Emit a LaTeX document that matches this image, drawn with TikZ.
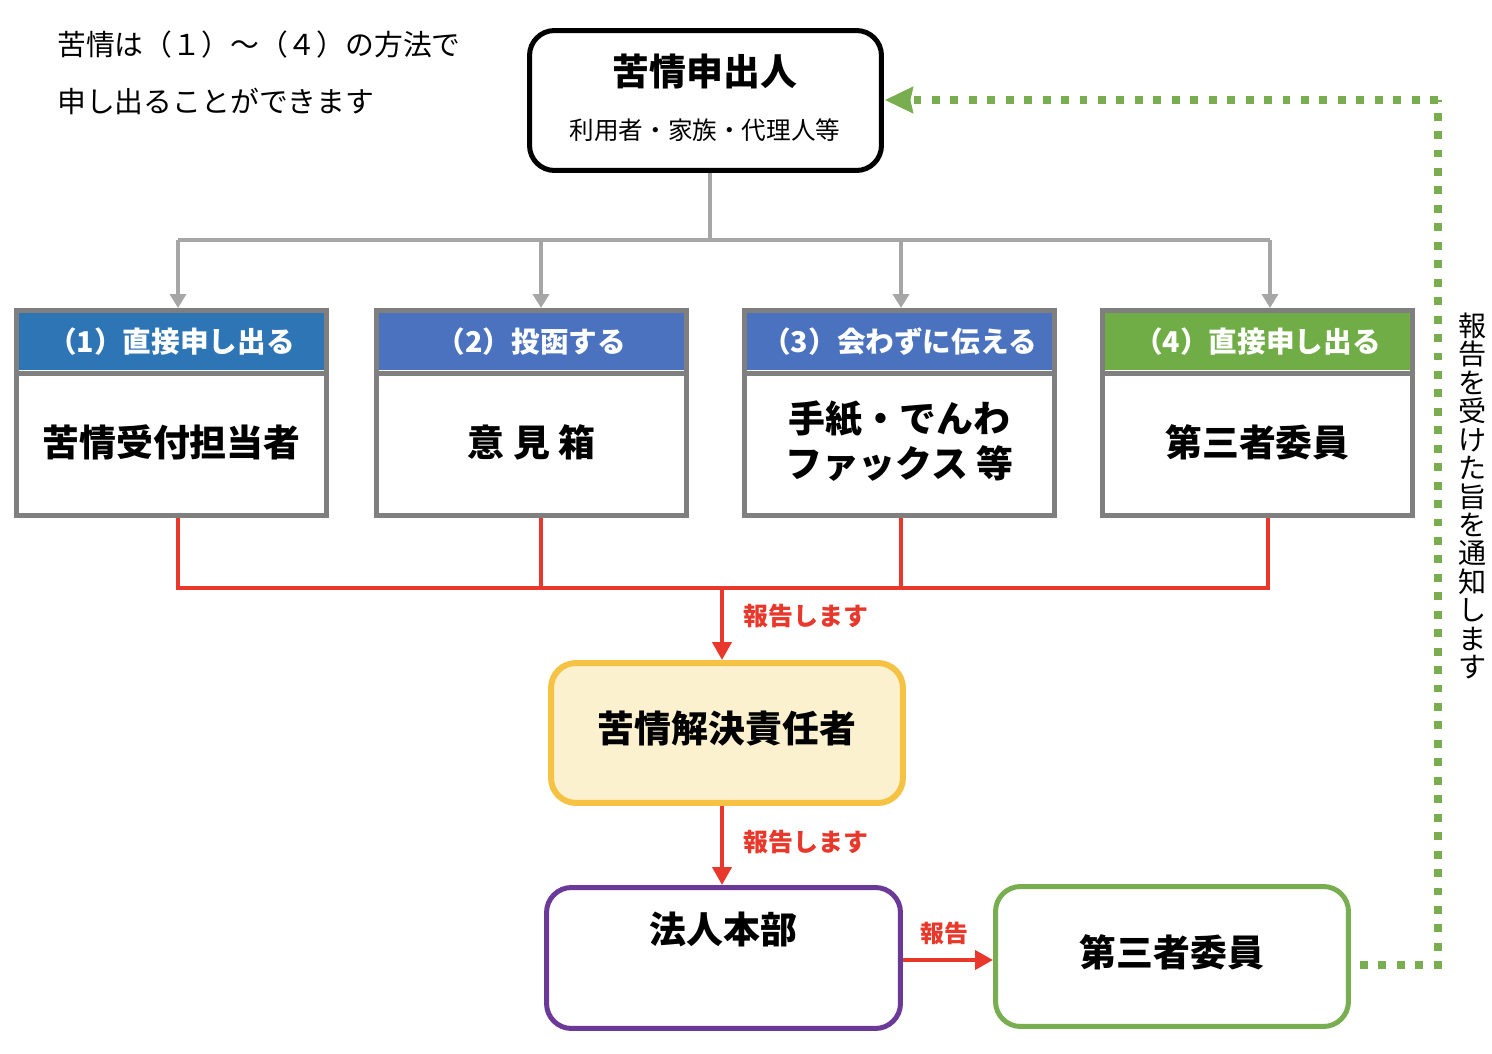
\documentclass[tikz,border=0pt]{standalone}
\usepackage{fontspec}
\setmainfont{Noto Sans CJK JP}
\usetikzlibrary{arrows.meta}
\definecolor{lgray}{HTML}{A6A6A6}
\definecolor{bgray}{HTML}{7F7F7F}
\definecolor{blueA}{HTML}{2E75B6}
\definecolor{blueB}{HTML}{4A72BE}
\definecolor{greenH}{HTML}{70AD47}
\definecolor{greenB}{HTML}{78AE50}
\definecolor{redL}{HTML}{E8382B}
\definecolor{yelF}{HTML}{FCF1CF}
\definecolor{yelB}{HTML}{F5C244}
\definecolor{purB}{HTML}{6B3A99}
\tikzset{
  grayline/.style={draw=lgray, line width=0.08cm},
  grayarrow/.style={grayline, -{Triangle[width=0.32cm,length=0.28cm]}},
  redline/.style={draw=redL, line width=0.08cm},
  redarrow/.style={redline, -{Triangle[width=0.38cm,length=0.36cm]}},
  catbox/.style={draw=bgray, line width=0.1cm, fill=white, minimum width=6.2cm, minimum height=4.1cm, inner sep=0pt},
  cathead/.style={minimum width=6.1cm, minimum height=1.16cm, inner sep=0pt, text=white, font=\fontsize{16.3}{18}\selectfont\bfseries},
  bodytext/.style={font=\fontsize{21}{25.5}\selectfont\bfseries, align=center, inner sep=0pt},
  rtext/.style={text=redL, font=\fontsize{14.2}{16}\selectfont\bfseries, anchor=west, inner sep=0pt},
  roundbox/.style={rounded corners=0.5cm, line width=0.1cm, minimum width=7.06cm, minimum height=2.8cm, inner sep=0pt},
  greendash/.style={draw=greenB, line width=0.16cm, dash pattern=on 4.5pt off 6pt}
}
\begin{document}
\begin{tikzpicture}[x=0.02cm,y=-0.02cm]
\useasboundingbox (0,0) rectangle (1492,1054);

% intro text
\node[anchor=west, inner sep=0pt, font=\fontsize{16.4}{18}\selectfont] (intro1) at (57,45) {苦情は（１）～（４）の方法で};
\node[anchor=west, inner sep=0pt, font=\fontsize{16.4}{18}\selectfont] (intro2) at (57,101) {申し出ることができます};

% top box
\node[roundbox, draw=black, minimum width=7.04cm] (top) at (705.5,100.5) {};
\node[bodytext] (toptitle) at (705,72) {苦情申出人};
\node[inner sep=0pt, font=\fontsize{14}{16}\selectfont] (topsub) at (705,130) {利用者・家族・代理人等};

% four category boxes
\node[catbox] (b1) at (171.5,413) {};
\node[catbox] (b2) at (531.5,413) {};
\node[catbox] (b3) at (899.5,413) {};
\node[catbox] (b4) at (1257.5,413) {};
\node[cathead, fill=blueA] (h1) at (171.5,341.5) {（1）直接申し出る};
\node[cathead, fill=blueB] (h2) at (531.5,341.5) {（2）投函する};
\node[cathead, fill=blueB] (h3) at (899.5,341.5) {（3）会わずに伝える};
\node[cathead, fill=greenH] (h4) at (1257.5,341.5) {（4）直接申し出る};
\foreach \b in {b1,b2,b3,b4}{
  \draw[draw=bgray, line width=0.1cm] (\b.west |- 0,373.5) -- (\b.east |- 0,373.5);
}
\node[bodytext] (t1) at (171.5,442) {苦情受付担当者};
\node[bodytext] (t2) at (531.5,442) {意 見 箱};
\node[bodytext] (t3) at (899.5,441) {手紙・でんわ\\ファックス 等};
\node[bodytext] (t4) at (1257.5,442) {第三者委員};

% gray distribution
\coordinate (g0) at (710,240);
\coordinate (g1) at (178,240);
\coordinate (g2) at (541,240);
\coordinate (g3) at (901,240);
\coordinate (g4) at (1270,240);
\draw[grayline] (top.south -| g0) -- (g0);
\draw[grayline] (g1) -- (g4);
\draw[grayarrow] (g1) -- (g1 |- b1.north);
\draw[grayarrow] (g2) -- (g2 |- b2.north);
\draw[grayarrow] (g3) -- (g3 |- b3.north);
\draw[grayarrow] (g4) -- (g4 |- b4.north);

% red collection
\coordinate (r1) at (178,588);
\coordinate (r2) at (541,588);
\coordinate (r3) at (901,588);
\coordinate (r4) at (1268,588);
\coordinate (rc) at (722,588);
\draw[redline] (r1 |- b1.south) -- (r1);
\draw[redline] (r2 |- b2.south) -- (r2);
\draw[redline] (r3 |- b3.south) -- (r3);
\draw[redline] (r4 |- b4.south) -- (r4);
\draw[redline, line cap=rect] (r1) -- (r4);

% responsible person
\node[roundbox, draw=yelB, fill=yelF, line width=0.12cm, minimum width=7.04cm] (yel) at (727,733) {};
\node[bodytext] (yeltext) at (727,729) {苦情解決責任者};
\draw[redarrow] (rc) -- (rc |- yel.north);
\node[rtext] (lab1) at (743,616) {報告します};

% headquarters
\node[roundbox, draw=purB, fill=white, minimum width=7.08cm, minimum height=2.82cm] (pur) at (723.5,958) {};
\node[bodytext] (purtext) at (723.5,929) {法人本部};
\draw[redarrow] (rc |- yel.south) -- (rc |- pur.north);
\node[rtext] (lab2) at (743,842) {報告します};

% third party
\node[roundbox, draw=greenB, fill=white, minimum width=7.06cm, minimum height=2.8cm] (grn) at (1172,956.5) {};
\node[bodytext] (grntext) at (1172,952) {第三者委員};
\draw[redarrow] (pur.east |- 0,960) -- (grn.west |- 0,960);
\node[rtext, font=\fontsize{13.6}{16}\selectfont\bfseries] (lab3) at (920,933) {報告};

% green dotted feedback
\coordinate (ge) at (1360,965);
\coordinate (gc) at (1438,100);
\draw[greendash] (ge) -| (gc);
\draw[greendash] (gc) -- (913,100);
\draw[draw=greenB, fill=greenB] (886,100) -- (913,87) -- (910,100) -- (913,113) -- cycle;
\node[inner sep=0pt, align=center, font=\fontsize{16}{16.2}\selectfont] (vtext) at (1473,496) {報\\告\\を\\受\\け\\た\\旨\\を\\通\\知\\し\\ま\\す};
\end{tikzpicture}
\end{document}
